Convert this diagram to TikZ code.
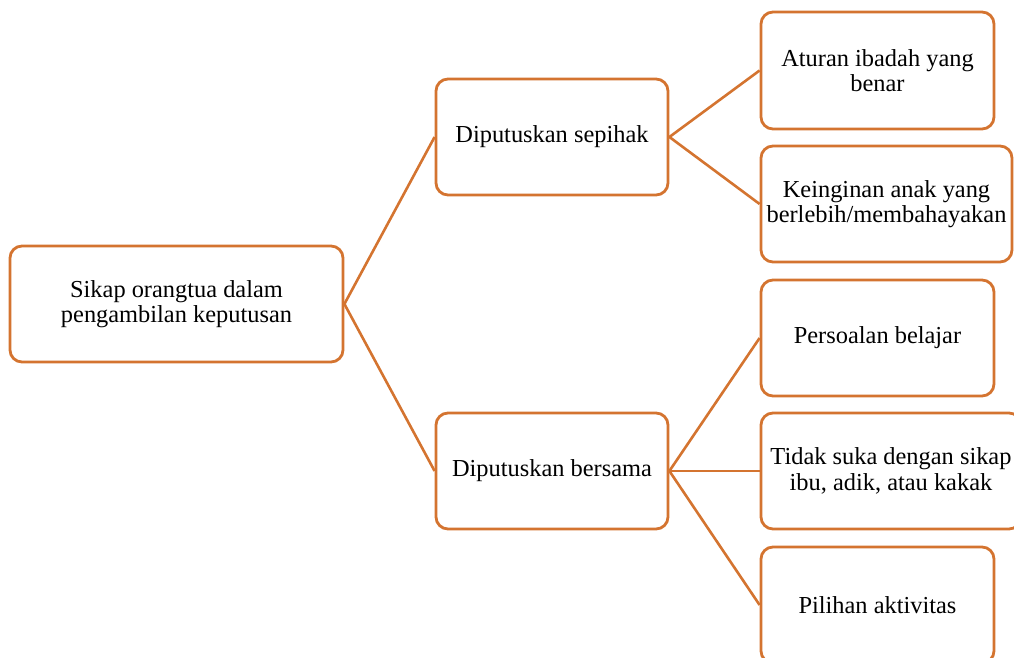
\documentclass[tikz,border=0pt]{standalone}
\usepackage{fontspec}
\setmainfont{Liberation Serif}
\definecolor{boxor}{RGB}{212,116,48}
\tikzset{
  box/.style={draw=boxor, line width=1.4pt, rounded corners=6pt, fill=white,
    align=center, inner sep=0pt, font=\fontsize{12.2}{12.6}\selectfont},
  link/.style={draw=boxor, line width=1.3pt}
}
\begin{document}
\begin{tikzpicture}[x=0.5pt,y=-0.5pt]
\useasboundingbox (0,0) rectangle (1014,658);
\clip (0,0) rectangle (1014,658);
\node[box, minimum width=166.5pt, minimum height=58pt] (root) at (176.5,304) {Sikap orangtua dalam\\pengambilan keputusan};
\node[box, minimum width=116pt, minimum height=58pt] (m1) at (552,137) {Diputuskan sepihak};
\node[box, minimum width=116pt, minimum height=58pt] (m2) at (552,471) {Diputuskan bersama};
\node[box, minimum width=116.5pt, minimum height=58.5pt] (r1) at (877.5,70.5) {Aturan ibadah yang\\benar};
\node[box, minimum width=125.5pt, minimum height=58pt] (r2) at (886.5,204) {Keinginan anak yang\\berlebih/membahayakan};
\node[box, minimum width=116.5pt, minimum height=58pt] (r3) at (877.5,338) {Persoalan belajar};
\node[box, minimum width=130pt, minimum height=58pt] (r4) at (891,471) {Tidak suka dengan sikap\\ibu, adik, atau kakak};
\node[box, minimum width=116.5pt, minimum height=58pt] (r5) at (877.5,605) {Pilihan aktivitas};
\draw[link] (root.east) -- (m1.west);
\draw[link] (root.east) -- (m2.west);
\draw[link] (m1.east) -- (r1.west);
\draw[link] (m1.east) -- (r2.west);
\draw[link] (m2.east) -- (r3.west);
\draw[link] (m2.east) -- (r4.west);
\draw[link] (m2.east) -- (r5.west);
\end{tikzpicture}
\end{document}
